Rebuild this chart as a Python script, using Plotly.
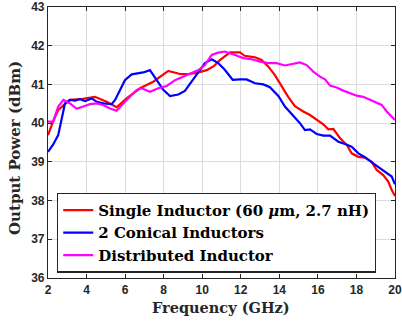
import plotly.graph_objects as go

f_single = [2.0, 2.27, 2.53, 3.14, 3.8, 4.44, 5.04, 5.56, 6.08, 6.77, 7.46, 8.24, 8.85, 9.3, 9.71,
            10.23, 10.6, 10.92, 11.44, 11.96, 12.2, 12.74, 13.08, 13.43, 13.77, 14.12, 14.46, 14.81,
            15.24, 15.59, 15.94, 16.28, 16.54, 16.8, 17.15, 17.5, 17.75, 18.1, 18.44, 18.79, 19.05,
            19.39, 19.65, 19.83, 20.0]
p_single = [39.69, 40.05, 40.34, 40.6, 40.63, 40.68, 40.55, 40.41, 40.64, 40.9, 41.07, 41.35, 41.27, 41.27, 41.3,
            41.37, 41.47, 41.63, 41.83, 41.83, 41.74, 41.7, 41.63, 41.46, 41.24, 40.94, 40.68, 40.44,
            40.3, 40.21, 40.1, 39.97, 39.84, 39.85, 39.61, 39.44, 39.22, 39.13, 39.11, 39.0, 38.79,
            38.66, 38.49, 38.27, 38.12]

f_conical = [2.0, 2.27, 2.53, 2.7, 2.88, 3.14, 3.4, 3.66, 3.92, 4.27, 4.53, 4.87, 5.3, 5.48, 5.73, 5.99,
             6.34, 6.68, 6.94, 7.29, 7.64, 7.98, 8.33, 8.76, 9.1, 9.45, 9.8, 10.14, 10.49, 10.83, 11.15,
             11.58, 11.96, 12.3, 12.74, 13.17, 13.51, 13.95, 14.29, 14.72, 15.07, 15.33, 15.59, 15.94,
             16.28, 16.63, 17.06, 17.4, 17.75, 18.1, 18.44, 18.87, 19.22, 19.57, 19.83, 20.0]
p_conical = [39.26, 39.45, 39.69, 40.08, 40.51, 40.6, 40.58, 40.62, 40.57, 40.64, 40.55, 40.51, 40.49, 40.6, 40.86, 41.11,
             41.26, 41.29, 41.31, 41.37, 41.11, 40.86, 40.7, 40.74, 40.83, 41.07, 41.33, 41.55, 41.65, 41.55, 41.39,
             41.12, 41.13, 41.13, 41.03, 41.0, 40.93, 40.7, 40.43, 40.19, 40.0, 39.82, 39.84, 39.72,
             39.68, 39.68, 39.52, 39.46, 39.39, 39.22, 39.12, 38.96, 38.83, 38.7, 38.62, 38.42]

f_distributed = [2.0, 2.27, 2.53, 2.8, 3.14, 3.49, 3.83, 4.18, 4.53, 4.87, 5.22, 5.56, 5.91, 6.25, 6.6,
                 6.86, 7.29, 7.72, 8.16, 8.59, 9.02, 9.37, 9.8, 10.14, 10.49, 10.83, 11.18, 11.7, 12.13,
                 12.57, 13.0, 13.43, 13.86, 14.29, 14.64, 15.07, 15.42, 15.76, 16.11, 16.37, 16.63, 16.97,
                 17.32, 17.66, 18.01, 18.35, 18.7, 19.05, 19.31, 19.57, 19.83, 20.0]
p_distributed = [40.04, 40.04, 40.43, 40.6, 40.51, 40.37, 40.43, 40.49, 40.51, 40.47, 40.38, 40.32, 40.51, 40.68, 40.86,
                 40.9, 40.81, 40.9, 40.96, 41.11, 41.2, 41.29, 41.37, 41.5, 41.76, 41.82, 41.85, 41.76, 41.68,
                 41.65, 41.59, 41.55, 41.55, 41.49, 41.52, 41.57, 41.5, 41.33, 41.2, 41.13, 40.97, 40.92,
                 40.84, 40.77, 40.71, 40.68, 40.6, 40.53, 40.47, 40.3, 40.17, 40.08]

names = ["Single Inductor (60 <i>μ</i>m, 2.7 nH)", "2 Conical Inductors", "Distributed Inductor"]
colors = ["#FF0000", "#0000FF", "#FF00FF"]

x_ticks = [2, 4, 6, 8, 10, 12, 14, 16, 18, 20]
y_ticks = [36, 37, 38, 39, 40, 41, 42, 43]

x_title = "Frequency (GHz)"
y_title = "Output Power (dBm)"

fig = go.Figure()
for fx, py, nm, c in zip([f_single, f_conical, f_distributed],
                         [p_single, p_conical, p_distributed], names, colors):
    fig.add_trace(go.Scatter(x=fx, y=py, mode="lines", name=nm,
                             line=dict(color=c, width=2.2)))

serif = "DejaVu Serif"
axis_common = dict(
    showline=True, linecolor="#262626", linewidth=1.2, mirror="ticks",
    ticks="inside", ticklen=4, tickcolor="#262626",
    showgrid=True, gridcolor="#DCDCDC", gridwidth=1,
    zeroline=False, automargin=False,
    tickfont=dict(family="Liberation Sans, Arial", size=12, color="#262626", weight="bold"),
)

fig.update_layout(
    width=402, height=322,
    margin=dict(l=48, r=7, t=7, b=44),
    paper_bgcolor="white", plot_bgcolor="white",
    xaxis=dict(range=[2, 20], tickvals=x_ticks, ticktext=[str(v) for v in x_ticks], **axis_common),
    yaxis=dict(range=[36, 43], tickvals=y_ticks, ticktext=[str(v) for v in y_ticks], **axis_common),
    legend=dict(x=0.026, y=0.02, xanchor="left", yanchor="bottom",
                bgcolor="white", bordercolor="#262626", borderwidth=1.2,
                font=dict(family=serif, size=15, color="black", weight="bold"),
                tracegroupgap=0, itemwidth=30),
    showlegend=True,
    annotations=[
        dict(text=x_title, xref="paper", yref="paper", x=0.4986, y=-0.1107,
             xanchor="center", yanchor="middle", showarrow=False,
             font=dict(family=serif, size=14.5, color="#262626", weight="bold")),
        dict(text=y_title, xref="paper", yref="paper", x=-0.095, y=0.48, textangle=-90,
             xanchor="center", yanchor="middle", showarrow=False,
             font=dict(family=serif, size=15, color="#262626", weight="bold")),
    ],
)

fig.write_html("out.html", config={"displayModeBar": False},
               post_script="document.body.style.margin='0';")
